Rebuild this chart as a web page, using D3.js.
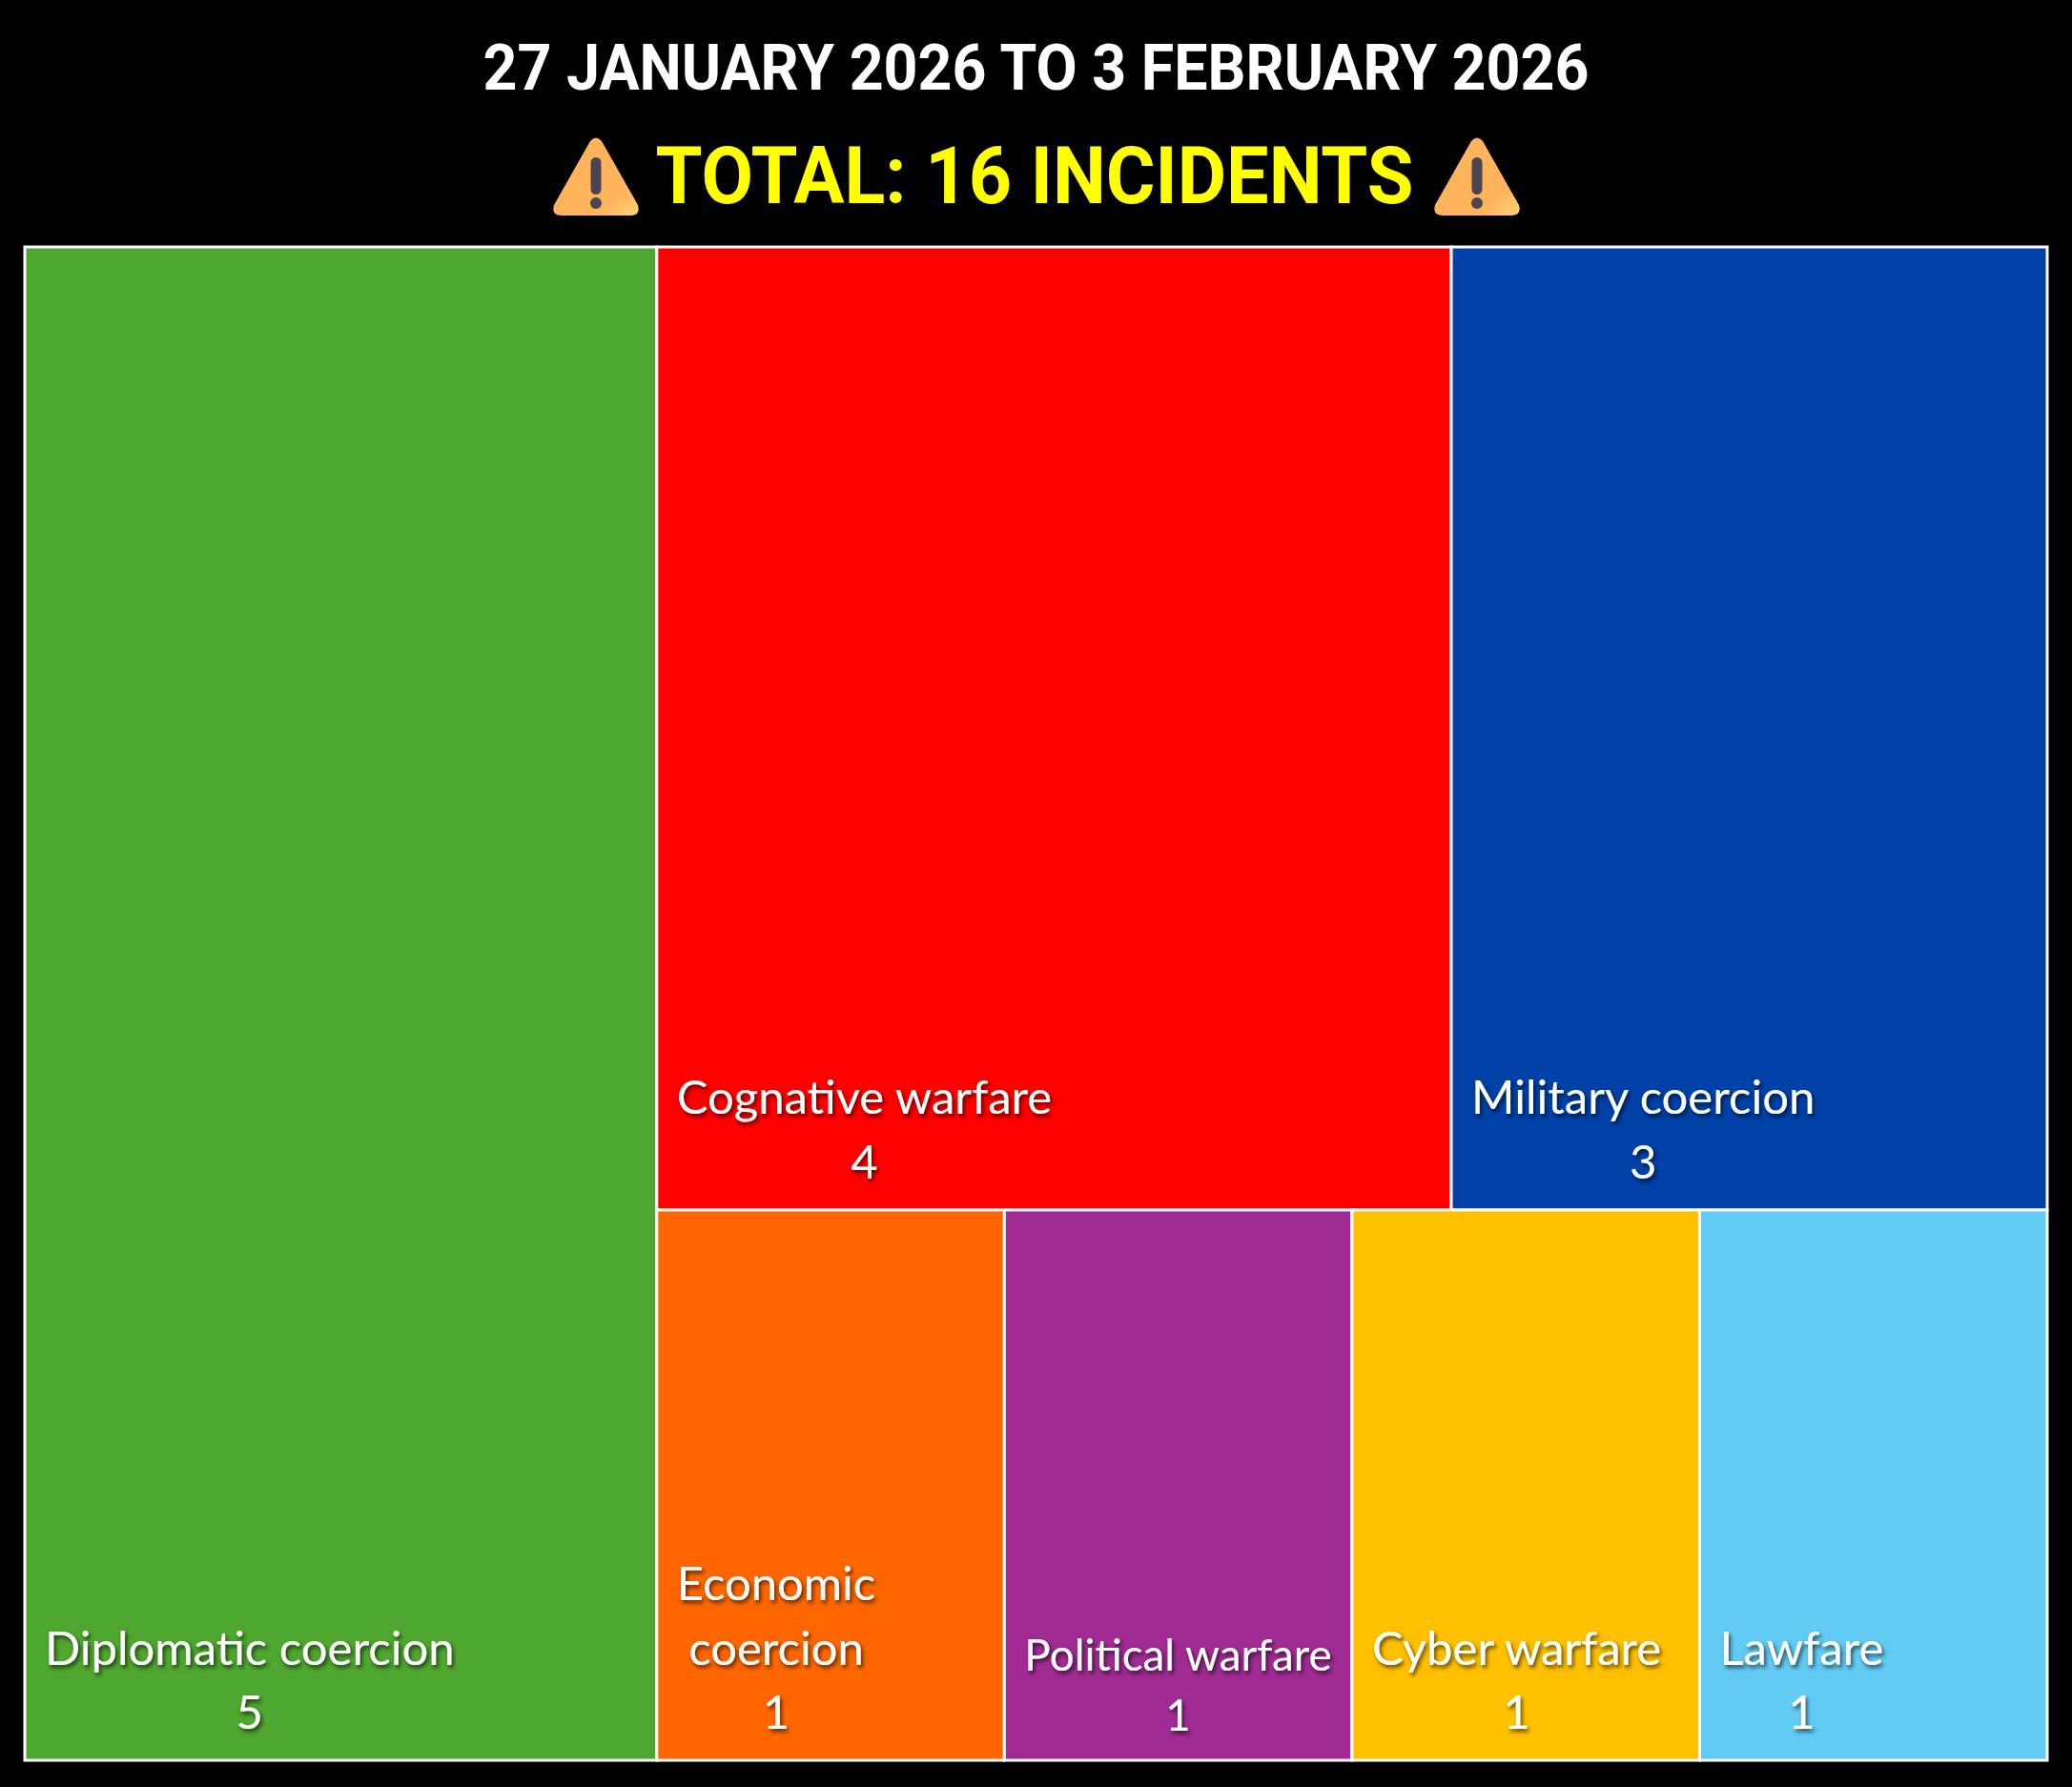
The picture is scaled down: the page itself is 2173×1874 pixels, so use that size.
<!DOCTYPE html>
<html>
<head>
<meta charset="utf-8">
<script src="https://cdn.jsdelivr.net/npm/d3@7"></script>
<style>
  html, body { margin: 0; padding: 0; background: #000; }
  svg { display: block; }
</style>
</head>
<body>
<div id="chart"></div>
<script>
// Incident categories, counts and colours
const categories = ["Diplomatic coercion", "Cognative warfare", "Military coercion",
                    "Economic coercion", "Political warfare", "Cyber warfare", "Lawfare"];
const counts = [5, 4, 3, 1, 1, 1, 1];
const colours = ["#4EA72E", "#FF0000", "#0041A8", "#FF6600", "#A02B93", "#FFC000", "#61CBF3"];

const dateTitle = "27 JANUARY 2026 TO 3 FEBRUARY 2026";
const totalTitle = "TOTAL: " + d3.sum(counts) + " INCIDENTS";

// Dimensions
const W = 2173, H = 1874;
const margin = {top: 259, right: 26, bottom: 28, left: 26};
const width = W - margin.left - margin.right;
const height = H - margin.top - margin.bottom;

const svg = d3.select("#chart")
    .append("svg")
    .attr("width", W)
    .attr("height", H)
    .style("background", "#000");

const defs = svg.append("defs");
const shadow = defs.append("filter")
    .attr("id", "shadow")
    .attr("x", "-20%").attr("y", "-40%")
    .attr("width", "140%").attr("height", "180%");
shadow.append("feDropShadow")
    .attr("dx", 2).attr("dy", 3)
    .attr("stdDeviation", 2)
    .attr("flood-color", "#000")
    .attr("flood-opacity", 0.65);

const warnGrad = defs.append("linearGradient")
    .attr("id", "warn-grad")
    .attr("x1", "0%").attr("y1", "0%").attr("x2", "100%").attr("y2", "100%");
warnGrad.append("stop").attr("offset", "0%").attr("stop-color", "#FFB35C");
warnGrad.append("stop").attr("offset", "75%").attr("stop-color", "#FFB45A");
warnGrad.append("stop").attr("offset", "100%").attr("stop-color", "#FFD277");

// Titles
svg.append("text")
    .attr("x", W / 2)
    .attr("y", 94)
    .attr("text-anchor", "middle")
    .attr("textLength", 1160)
    .attr("lengthAdjust", "spacingAndGlyphs")
    .style("font-family", "Roboto, 'Open Sans', sans-serif")
    .style("font-weight", "bold")
    .style("font-size", "66px")
    .style("fill", "#fff")
    .text(dateTitle);

svg.append("text")
    .attr("x", 1085)
    .attr("y", 213)
    .attr("text-anchor", "middle")
    .attr("textLength", 795)
    .attr("lengthAdjust", "spacingAndGlyphs")
    .style("font-family", "Roboto, 'Open Sans', sans-serif")
    .style("font-weight", "bold")
    .style("font-size", "84px")
    .style("fill", "#FFFF00")
    .text(totalTitle);

// warning icons either side of the total
function warnIcon(cx) {
    const g = svg.append("g").attr("transform", `translate(${cx},185)`);
    g.append("path")
        .attr("d", "M-6,-37 Q0,-44 6,-37 L44,30 Q47,41 36,41 L-36,41 Q-47,41 -44,30 Z")
        .attr("fill", "url(#warn-grad)");
    g.append("rect")
        .attr("x", -5.5).attr("y", -20)
        .attr("width", 11).attr("height", 39)
        .attr("rx", 5.5)
        .attr("fill", "#4A4453");
    g.append("circle")
        .attr("cx", 0).attr("cy", 28)
        .attr("r", 6)
        .attr("fill", "#4A4453");
}
warnIcon(625);
warnIcon(1549);

// Excel-style tiling: largest item takes a full-height column,
// the rest is squarified in the remaining area
function excelTile(parent, x0, y0, x1, y1) {
    const [first, ...rest] = parent.children;
    const xs = x0 + (x1 - x0) * first.value / parent.value;
    first.x0 = x0; first.x1 = xs; first.y0 = y0; first.y1 = y1;
    if (rest.length) {
        const sub = {children: rest, value: parent.value - first.value};
        d3.treemapSquarify.ratio(1)(sub, xs, y0, x1, y1);
    }
}

const root = d3.hierarchy({
        children: categories.map((c, i) => ({name: c, value: counts[i], colour: colours[i]}))
    })
    .sum(d => d.value || 0);

d3.treemap()
    .tile(excelTile)
    .size([width, height])
    .round(false)(root);

const chart = svg.append("g")
    .attr("transform", `translate(${margin.left},${margin.top})`);

const cell = chart.selectAll("g.cell")
    .data(root.leaves())
    .enter()
    .append("g")
    .attr("class", "cell");

cell.append("rect")
    .attr("x", d => d.x0)
    .attr("y", d => d.y0)
    .attr("width", d => d.x1 - d.x0)
    .attr("height", d => d.y1 - d.y0)
    .attr("fill", d => d.data.colour)
    .attr("stroke", "#fff")
    .attr("stroke-width", 3);

// Labels: name block bottom-left, count centred under it
const baseSize = 49;
const pad = 21;

cell.each(function(d) {
    const g = d3.select(this);
    const avail = (d.x1 - d.x0) - 2 * pad;

    const label = g.append("text")
        .style("font-family", "Lato, 'Open Sans', sans-serif")
        .style("fill", "#fff")
        .attr("filter", "url(#shadow)");

    let size = baseSize;
    let lines = [d.data.name];
    label.style("font-size", size + "px").text(d.data.name);
    const w = label.node().getComputedTextLength();
    if (w > avail) {
        if (avail / w >= 0.85) {
            size = baseSize * avail / w;
        } else {
            lines = d.data.name.split(" ");
        }
    }
    label.text(null).style("font-size", size + "px");

    const lineH = size * 1.37;
    const valueY = d.y1 - size * 0.68;
    const firstY = valueY - lineH * lines.length;

    const spans = lines.map((t, i) => label.append("tspan")
        .attr("y", firstY + lineH * i)
        .text(t));
    const blockW = d3.max(spans, s => s.node().getComputedTextLength());
    const cx = d.x0 + pad + blockW / 2;
    spans.forEach(s => s.attr("x", cx).attr("text-anchor", "middle"));

    label.append("tspan")
        .attr("x", cx)
        .attr("y", valueY)
        .attr("text-anchor", "middle")
        .text(d.value);
});
</script>
</body>
</html>
